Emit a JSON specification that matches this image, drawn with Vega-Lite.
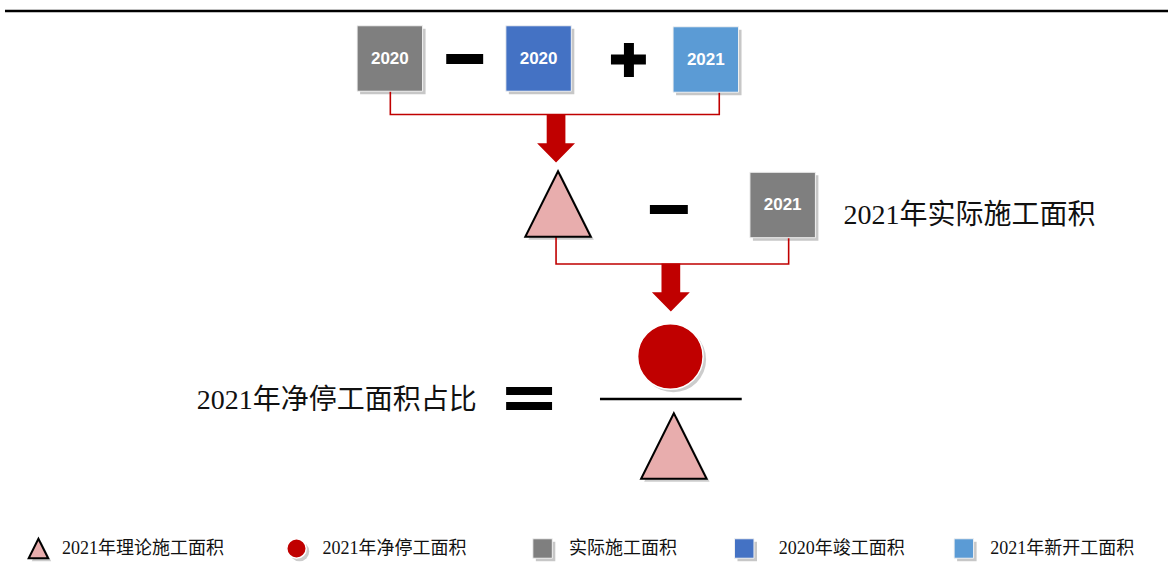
{
  "$schema": "https://vega.github.io/schema/vega-lite/v6.json",
  "width": 1170,
  "height": 580,
  "padding": 0,
  "autosize": {"type": "fit", "contains": "padding"},
  "background": "white",
  "config": {"view": {"stroke": null}},
  "datasets": {
    "rules": [
      {"x": 5, "x2": 1170, "y": 11},
      {"x": 601, "x2": 743, "y": 399}
    ],
    "bars": [
      {"x": 447, "x2": 484, "y": 54, "y2": 64},
      {"x": 612, "x2": 647, "y": 54.5, "y2": 64.5},
      {"x": 625, "x2": 635, "y": 43, "y2": 77},
      {"x": 651, "x2": 689, "y": 205, "y2": 214},
      {"x": 507, "x2": 553, "y": 387, "y2": 395},
      {"x": 507, "x2": 553, "y": 402, "y2": 410}
    ],
    "links": [
      {"g": "a", "o": 1, "x": 391, "y": 91},
      {"g": "a", "o": 2, "x": 391, "y": 114.5},
      {"g": "a", "o": 3, "x": 720.5, "y": 114.5},
      {"g": "a", "o": 4, "x": 720.5, "y": 92},
      {"g": "b", "o": 1, "x": 557, "y": 237},
      {"g": "b", "o": 2, "x": 557, "y": 264},
      {"g": "b", "o": 3, "x": 790, "y": 264},
      {"g": "b", "o": 4, "x": 790, "y": 238}
    ],
    "arrows": [
      {"x": 557, "y": 138.5},
      {"x": 672, "y": 287.5}
    ],
    "squares": [
      {"x": 390.5, "y": 58.5, "kind": "实际施工面积", "label": "2020", "role": "main"},
      {"x": 539.5, "y": 58.5, "kind": "2020年竣工面积", "label": "2020", "role": "main"},
      {"x": 707, "y": 59.5, "kind": "2021年新开工面积", "label": "2021", "role": "main"},
      {"x": 784, "y": 205, "kind": "实际施工面积", "label": "2021", "role": "main"},
      {"x": 543.5, "y": 548.5, "kind": "实际施工面积", "label": "", "role": "legend"},
      {"x": 745.5, "y": 548.5, "kind": "2020年竣工面积", "label": "", "role": "legend"},
      {"x": 965.5, "y": 548.5, "kind": "2021年新开工面积", "label": "", "role": "legend"}
    ],
    "triangles": [
      {"x": 559, "y": 204, "role": "main"},
      {"x": 675, "y": 446, "role": "main"},
      {"x": 38.5, "y": 548.5, "role": "legend"}
    ],
    "circles": [
      {"x": 671.5, "y": 356.5, "role": "main"},
      {"x": 297, "y": 548.5, "role": "legend"}
    ],
    "bigText": [
      {"x": 845, "y": 216, "text": "2021年实际施工面积"},
      {"x": 197, "y": 401, "text": "2021年净停工面积占比"}
    ],
    "legendText": [
      {"x": 62, "y": 549, "text": "2021年理论施工面积"},
      {"x": 323, "y": 549, "text": "2021年净停工面积"},
      {"x": 570, "y": 549, "text": "实际施工面积"},
      {"x": 780, "y": 549, "text": "2020年竣工面积"},
      {"x": 992, "y": 549, "text": "2021年新开工面积"}
    ]
  },
  "layer": [
    {
      "data": {"name": "squares"},
      "mark": {"type": "point", "shape": "square", "filled": true, "color": "#000000", "opacity": 0.22, "xOffset": 3, "yOffset": 3},
      "encoding": {
        "x": {"field": "x", "type": "quantitative", "scale": {"domain": [0, 1170], "nice": false, "zero": false}, "axis": null},
        "y": {"field": "y", "type": "quantitative", "scale": {"domain": [0, 580], "nice": false, "zero": false, "reverse": true}, "axis": null},
        "size": {"field": "role", "type": "nominal", "scale": {"domain": ["main", "legend"], "range": [4290, 380]}, "legend": null}
      }
    },
    {
      "data": {"name": "triangles"},
      "mark": {"type": "point", "shape": "M0,-1L-1,1L1,1Z", "filled": true, "color": "#000000", "opacity": 0.2, "xOffset": 3, "yOffset": 3},
      "encoding": {
        "x": {"field": "x", "type": "quantitative", "scale": {"domain": [0, 1170], "nice": false, "zero": false}, "axis": null},
        "y": {"field": "y", "type": "quantitative", "scale": {"domain": [0, 580], "nice": false, "zero": false, "reverse": true}, "axis": null},
        "size": {"field": "role", "type": "nominal", "scale": {"domain": ["main", "legend"], "range": [4356, 484]}, "legend": null}
      }
    },
    {
      "data": {"name": "circles"},
      "mark": {"type": "point", "shape": "circle", "filled": true, "color": "#000000", "opacity": 0.2, "xOffset": 3, "yOffset": 3},
      "encoding": {
        "x": {"field": "x", "type": "quantitative", "scale": {"domain": [0, 1170], "nice": false, "zero": false}, "axis": null},
        "y": {"field": "y", "type": "quantitative", "scale": {"domain": [0, 580], "nice": false, "zero": false, "reverse": true}, "axis": null},
        "size": {"field": "role", "type": "nominal", "scale": {"domain": ["main", "legend"], "range": [4225, 480]}, "legend": null}
      }
    },
    {
      "data": {"name": "links"},
      "mark": {"type": "line", "color": "#c00000", "strokeWidth": 1.6, "interpolate": "linear"},
      "encoding": {
        "x": {"field": "x", "type": "quantitative", "scale": {"domain": [0, 1170], "nice": false, "zero": false}, "axis": null},
        "y": {"field": "y", "type": "quantitative", "scale": {"domain": [0, 580], "nice": false, "zero": false, "reverse": true}, "axis": null},
        "detail": {"field": "g", "type": "nominal"},
        "order": {"field": "o", "type": "quantitative"}
      }
    },
    {
      "data": {"name": "squares"},
      "mark": {"type": "point", "shape": "square", "filled": true, "opacity": 1, "stroke": "#f2f2f2", "strokeWidth": 1},
      "encoding": {
        "x": {"field": "x", "type": "quantitative", "scale": {"domain": [0, 1170], "nice": false, "zero": false}, "axis": null},
        "y": {"field": "y", "type": "quantitative", "scale": {"domain": [0, 580], "nice": false, "zero": false, "reverse": true}, "axis": null},
        "size": {"field": "role", "type": "nominal", "scale": {"domain": ["main", "legend"], "range": [4290, 380]}, "legend": null},
        "fill": {"field": "kind", "type": "nominal", "scale": {"domain": ["实际施工面积", "2020年竣工面积", "2021年新开工面积"], "range": ["#7f7f7f", "#4472c4", "#5b9bd5"]}, "legend": null}
      }
    },
    {
      "data": {"name": "triangles"},
      "mark": {"type": "point", "shape": "M0,-1L-1,1L1,1Z", "filled": true, "fill": "#e8adad", "opacity": 1, "stroke": "#000000", "strokeWidth": 2, "strokeJoin": "miter"},
      "encoding": {
        "x": {"field": "x", "type": "quantitative", "scale": {"domain": [0, 1170], "nice": false, "zero": false}, "axis": null},
        "y": {"field": "y", "type": "quantitative", "scale": {"domain": [0, 580], "nice": false, "zero": false, "reverse": true}, "axis": null},
        "size": {"field": "role", "type": "nominal", "scale": {"domain": ["main", "legend"], "range": [4356, 484]}, "legend": null}
      }
    },
    {
      "data": {"name": "circles"},
      "mark": {"type": "point", "shape": "circle", "filled": true, "fill": "#c00000", "opacity": 1, "stroke": "#ffffff", "strokeWidth": 1.5},
      "encoding": {
        "x": {"field": "x", "type": "quantitative", "scale": {"domain": [0, 1170], "nice": false, "zero": false}, "axis": null},
        "y": {"field": "y", "type": "quantitative", "scale": {"domain": [0, 580], "nice": false, "zero": false, "reverse": true}, "axis": null},
        "size": {"field": "role", "type": "nominal", "scale": {"domain": ["main", "legend"], "range": [4225, 480]}, "legend": null}
      }
    },
    {
      "data": {"name": "arrows"},
      "mark": {"type": "point", "shape": "M-0.39,-1L0.39,-1L0.39,0.2L0.79,0.2L0,1L-0.79,0.2L-0.39,0.2Z", "filled": true, "fill": "#c00000", "opacity": 1, "size": 2304},
      "encoding": {
        "x": {"field": "x", "type": "quantitative", "scale": {"domain": [0, 1170], "nice": false, "zero": false}, "axis": null},
        "y": {"field": "y", "type": "quantitative", "scale": {"domain": [0, 580], "nice": false, "zero": false, "reverse": true}, "axis": null}
      }
    },
    {
      "data": {"name": "bars"},
      "mark": {"type": "rect", "fill": "#000000"},
      "encoding": {
        "x": {"field": "x", "type": "quantitative", "scale": {"domain": [0, 1170], "nice": false, "zero": false}, "axis": null},
        "x2": {"field": "x2"},
        "y": {"field": "y", "type": "quantitative", "scale": {"domain": [0, 580], "nice": false, "zero": false, "reverse": true}, "axis": null},
        "y2": {"field": "y2"}
      }
    },
    {
      "data": {"name": "rules"},
      "mark": {"type": "rule", "color": "#000000", "strokeWidth": 2.7},
      "encoding": {
        "x": {"field": "x", "type": "quantitative", "scale": {"domain": [0, 1170], "nice": false, "zero": false}, "axis": null},
        "x2": {"field": "x2"},
        "y": {"field": "y", "type": "quantitative", "scale": {"domain": [0, 580], "nice": false, "zero": false, "reverse": true}, "axis": null}
      }
    },
    {
      "data": {"name": "squares"},
      "mark": {"type": "text", "color": "#ffffff", "font": "Liberation Sans", "fontWeight": "bold", "fontSize": 17, "align": "center", "baseline": "middle"},
      "encoding": {
        "x": {"field": "x", "type": "quantitative", "scale": {"domain": [0, 1170], "nice": false, "zero": false}, "axis": null},
        "y": {"field": "y", "type": "quantitative", "scale": {"domain": [0, 580], "nice": false, "zero": false, "reverse": true}, "axis": null},
        "text": {"field": "label", "type": "nominal"}
      }
    },
    {
      "data": {"name": "bigText"},
      "mark": {"type": "text", "color": "#111111", "font": "Liberation Serif, Noto Sans CJK SC", "fontSize": 28, "align": "left", "baseline": "middle"},
      "encoding": {
        "x": {"field": "x", "type": "quantitative", "scale": {"domain": [0, 1170], "nice": false, "zero": false}, "axis": null},
        "y": {"field": "y", "type": "quantitative", "scale": {"domain": [0, 580], "nice": false, "zero": false, "reverse": true}, "axis": null},
        "text": {"field": "text", "type": "nominal"}
      }
    },
    {
      "data": {"name": "legendText"},
      "mark": {"type": "text", "color": "#111111", "font": "Liberation Serif, Noto Sans CJK SC", "fontSize": 18, "align": "left", "baseline": "middle"},
      "encoding": {
        "x": {"field": "x", "type": "quantitative", "scale": {"domain": [0, 1170], "nice": false, "zero": false}, "axis": null},
        "y": {"field": "y", "type": "quantitative", "scale": {"domain": [0, 580], "nice": false, "zero": false, "reverse": true}, "axis": null},
        "text": {"field": "text", "type": "nominal"}
      }
    }
  ]
}
